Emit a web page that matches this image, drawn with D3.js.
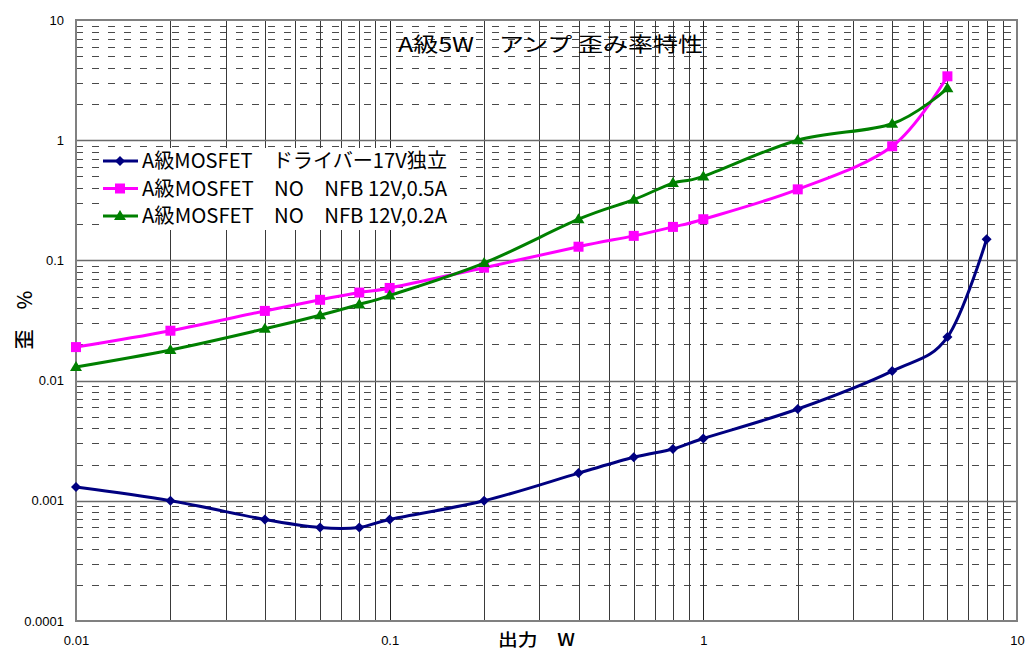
<!DOCTYPE html>
<html><head><meta charset="utf-8">
<script src="https://cdn.jsdelivr.net/npm/d3@7"></script>
<style>
html,body{margin:0;padding:0;background:#fff;}
svg{display:block;}
.tick text{font-family:'Liberation Sans',Arial,sans-serif;font-size:13px;fill:#000;}
</style></head>
<body>
<svg id="chart" width="1027" height="651"></svg>
<script>
// ---- data ----
const power = [0.01, 0.02, 0.04, 0.06, 0.08, 0.1, 0.2, 0.4, 0.6, 0.8, 1, 2, 4, 6, 8];
const seriesNames = ["A級MOSFET　ドライバー17V独立", "A級MOSFET　NO　NFB 12V,0.5A", "A級MOSFET　NO　NFB 12V,0.2A"];
const distDriver = [0.0013, 0.001, 0.0007, 0.0006, 0.0006, 0.0007, 0.001, 0.0017, 0.0023, 0.0027, 0.0033, 0.0058, 0.012, 0.023, 0.15];
const dist05A = [0.019, 0.026, 0.038, 0.047, 0.054, 0.059, 0.087, 0.13, 0.16, 0.19, 0.22, 0.39, 0.89, 3.4];
const dist02A = [0.013, 0.018, 0.027, 0.035, 0.043, 0.051, 0.095, 0.22, 0.32, 0.44, 0.5, 1.0, 1.37, 2.7];
const xTickValues = [0.01, 0.1, 1, 10];
const xTickLabels = ["0.01", "0.1", "1", "10"];
const yTickValues = [0.0001, 0.001, 0.01, 0.1, 1, 10];
const yTickLabels = ["0.0001", "0.001", "0.01", "0.1", "1", "10"];
const chartTitle = "A級5W　アンプ 歪み率特性";
const xTitle = "出力　W";
const yTitle = "歪　%";
const colors = ["#000080", "#FF00FF", "#008000"];
const markers = ["diamond", "square", "triangle"];

// ---- layout ----
const L = 76, R = 1017, T = 20, B = 621;
const svg = d3.select("#chart");
const x = d3.scaleLog().domain([0.01, 10]).range([L, R]);
const y = d3.scaleLog().domain([0.0001, 10]).range([B, T]);
const jp = "'Noto Sans CJK JP', sans-serif";

svg.append("rect").attr("width", 1027).attr("height", 651).attr("fill", "#fff");

const grid = svg.append("g");
const yDecades = [0.0001, 0.001, 0.01, 0.1, 1];
yDecades.forEach(d => {
  for (let k = 2; k <= 9; k++) {
    const yy = Math.round(y(d * k)) + 0.5;
    grid.append("line").attr("x1", L).attr("x2", R).attr("y1", yy).attr("y2", yy)
      .attr("stroke", "#4a4a4a").attr("stroke-width", 1).attr("stroke-dasharray", "7,9");
  }
});
const xDecades = [0.01, 0.1, 1];
xDecades.forEach(d => {
  for (let k = 1; k <= 9; k++) {
    if (d === 0.01 && k === 1) continue;
    const xx = Math.round(x(d * k)) + 0.5;
    grid.append("line").attr("x1", xx).attr("x2", xx).attr("y1", T).attr("y2", B)
      .attr("stroke", k === 1 ? "#222" : "#3a3a3a").attr("stroke-width", 1);
  }
});
yDecades.slice(1).forEach(d => {
  const yy = Math.round(y(d)) + 0.5;
  grid.append("line").attr("x1", L).attr("x2", R).attr("y1", yy).attr("y2", yy)
    .attr("stroke", "#6a6a6a").attr("stroke-width", 1.5);
});
svg.append("rect").attr("x", L).attr("y", T).attr("width", R - L).attr("height", B - T)
  .attr("fill", "none").attr("stroke", "#808080").attr("stroke-width", 2);

// title
svg.append("text").attr("x", 398).attr("y", 52).attr("font-family", jp).attr("font-size", 20)
  .attr("textLength", 305).attr("lengthAdjust", "spacingAndGlyphs").attr("fill", "#000").text(chartTitle);

// axes
const yAxis = d3.axisLeft(y).tickValues(yTickValues).tickFormat((d, i) => yTickLabels[i]).tickSize(0).tickPadding(12);
const gy = svg.append("g").attr("transform", `translate(${L},0)`).call(yAxis);
const xAxis = d3.axisBottom(x).tickValues(xTickValues).tickFormat((d, i) => xTickLabels[i]).tickSize(0).tickPadding(15);
const gx = svg.append("g").attr("transform", `translate(0,${B})`).call(xAxis);
[gx, gy].forEach(g => {
  g.select(".domain").remove();
  g.attr("font-size", 13).attr("font-family", "'Liberation Sans', Arial, sans-serif");
  g.selectAll("text").style("font-size", "13px").attr("fill", "#000");
});

// axis titles
svg.append("text").attr("x", 498).attr("y", 646).attr("font-family", jp).attr("font-size", 17)
  .attr("font-weight", 500).attr("textLength", 77).attr("lengthAdjust", "spacingAndGlyphs").text(xTitle);
svg.append("text").attr("transform", "translate(32,320) rotate(-90)").attr("text-anchor", "middle")
  .attr("font-family", jp).attr("font-size", 20).attr("font-weight", 500).text(yTitle);

function drawMarker(g, type, cx, cy, color) {
  if (type === "diamond") {
    g.append("path").attr("d", `M${cx},${cy - 5}L${cx + 5},${cy}L${cx},${cy + 5}L${cx - 5},${cy}Z`).attr("fill", color);
  } else if (type === "square") {
    g.append("rect").attr("x", cx - 5).attr("y", cy - 5).attr("width", 10).attr("height", 10).attr("fill", color);
  } else {
    g.append("path").attr("d", `M${cx},${cy - 6}L${cx + 6},${cy + 4}L${cx - 6},${cy + 4}Z`).attr("fill", color);
  }
}

const allSeries = [distDriver, dist05A, dist02A];
const line = d3.line().x(d => x(d[0])).y(d => y(d[1])).curve(d3.curveCardinal.tension(0));
allSeries.forEach((vals, si) => {
  const pts = vals.map((v, i) => [power[i], v]);
  const g = svg.append("g");
  g.append("path").attr("d", line(pts)).attr("fill", "none").attr("stroke", colors[si])
    .attr("stroke-width", 3).attr("stroke-linejoin", "round");
  pts.forEach(p => drawMarker(g, markers[si], x(p[0]), y(p[1]), colors[si]));
});

// legend
const lg = svg.append("g");
lg.append("rect").attr("x", 99).attr("y", 148).attr("width", 354).attr("height", 82).attr("fill", "#fff");
const rowsY = [161, 188.5, 216];
seriesNames.forEach((name, i) => {
  lg.append("line").attr("x1", 103).attr("x2", 138).attr("y1", rowsY[i]).attr("y2", rowsY[i])
    .attr("stroke", colors[i]).attr("stroke-width", 3);
  drawMarker(lg, markers[i], 120, rowsY[i], colors[i]);
  lg.append("text").attr("x", 142).attr("y", rowsY[i] + 7).attr("font-family", jp).attr("font-size", 20)
    .attr("textLength", 305).attr("lengthAdjust", "spacingAndGlyphs").text(name);
});
</script>
</body></html>
